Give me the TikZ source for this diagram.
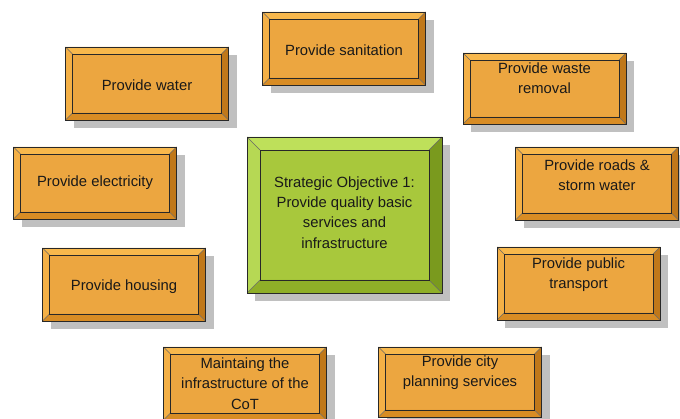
\documentclass[tikz,border=0pt]{standalone}
\usepackage{fontspec}
\setmainfont{Liberation Sans}
\usetikzlibrary{shadows}

\definecolor{orface}{RGB}{236,166,64}
\definecolor{ortop}{RGB}{248,184,76}
\definecolor{orleft}{RGB}{244,176,70}
\definecolor{orright}{RGB}{192,120,26}
\definecolor{orbottom}{RGB}{216,140,36}
\definecolor{grface}{RGB}{168,200,60}
\definecolor{grtop}{RGB}{190,224,90}
\definecolor{grleft}{RGB}{182,216,84}
\definecolor{grright}{RGB}{122,154,30}
\definecolor{grbottom}{RGB}{143,175,40}
\definecolor{shadowgray}{RGB}{192,192,192}
\definecolor{edge}{RGB}{40,40,40}

\tikzset{
    bevel/.style n args={5}{path picture={
        \coordinate (p1) at (path picture bounding box.north west);
        \coordinate (p2) at (path picture bounding box.north east);
        \coordinate (p3) at (path picture bounding box.south east);
        \coordinate (p4) at (path picture bounding box.south west);
        \coordinate (q1) at ([xshift=#5,yshift=-#5]p1);
        \coordinate (q2) at ([xshift=-#5,yshift=-#5]p2);
        \coordinate (q3) at ([xshift=-#5,yshift=#5]p3);
        \coordinate (q4) at ([xshift=#5,yshift=#5]p4);
        \fill[#1] (p1) -- (p2) -- (q2) -- (q1) -- cycle;
        \fill[#3] (p2) -- (p3) -- (q3) -- (q2) -- cycle;
        \fill[#4] (p3) -- (p4) -- (q4) -- (q3) -- cycle;
        \fill[#2] (p4) -- (p1) -- (q1) -- (q4) -- cycle;
        \draw[edge!70, line width=0.4pt] (p1) -- (q1) (p2) -- (q2) (p3) -- (q3) (p4) -- (q4);
        \draw[edge, line width=0.9pt] (q1) rectangle (q3);
    }},
    basebox/.style = {draw = edge, line width = 0.9pt, inner sep = 0pt,
        drop shadow = {shadow xshift = 8pt, shadow yshift = -8pt, fill = shadowgray, opacity = 1}},
    taskbox/.style = {basebox, fill = orface, minimum width = 163pt, minimum height = 73pt,
        bevel = {ortop}{orleft}{orright}{orbottom}{7pt}},
    goalbox/.style = {basebox, fill = grface, minimum width = 195pt, minimum height = 156pt,
        bevel = {grtop}{grleft}{grright}{grbottom}{13pt}},
    txt/.style = {font = \fontsize{14.8}{20.3}\selectfont, text = black!90, align = center}
}

\begin{document}
\begin{tikzpicture}[x = 1pt, y = -1pt]
    \fill [white] (0,0) rectangle (680,419);
    \useasboundingbox (0,0) rectangle (680,419);

    % boxes
    \node [goalbox] (goal) at (344.5,215) {};
    \node [taskbox] (sanitation) at (344,48.5) {};
    \node [taskbox] (water) at (147,83.5) {};
    \node [taskbox, minimum height = 71pt] (waste) at (544.5,88.5) {};
    \node [taskbox, minimum height = 72pt] (electricity) at (95,183) {};
    \node [taskbox] (roads) at (597,183.5) {};
    \node [taskbox] (housing) at (124,284.5) {};
    \node [taskbox] (transport) at (578.5,283.5) {};
    \node [taskbox] (maintain) at (245,383.5) {};
    \node [taskbox, minimum height = 70pt] (planning) at (460,382) {};

    % texts
    \node [txt, yshift = 2.5pt] (goal-t) at (goal) {Strategic Objective 1:\\Provide quality basic\\services and\\infrastructure};
    \node [txt, yshift = -1.5pt] (sanitation-t) at (sanitation) {Provide sanitation};
    \node [txt, yshift = -1.5pt] (water-t) at (water) {Provide water};
    \node [txt, yshift = 10pt] (waste-t) at (waste) {Provide waste\\removal};
    \node [txt] (electricity-t) at (electricity) {Provide electricity};
    \node [txt, yshift = 8.5pt] (roads-t) at (roads) {Provide roads \&\\storm water};
    \node [txt, yshift = -2pt] (housing-t) at (housing) {Provide housing};
    \node [txt, yshift = 8.5pt] (transport-t) at (transport) {Provide public\\transport};
    \node [txt] (maintain-t) at (maintain) {Maintaing the\\infrastructure of the\\CoT};
    \node [txt, yshift = 9pt] (planning-t) at (planning) {Provide city\\planning services};
\end{tikzpicture}
\end{document}
